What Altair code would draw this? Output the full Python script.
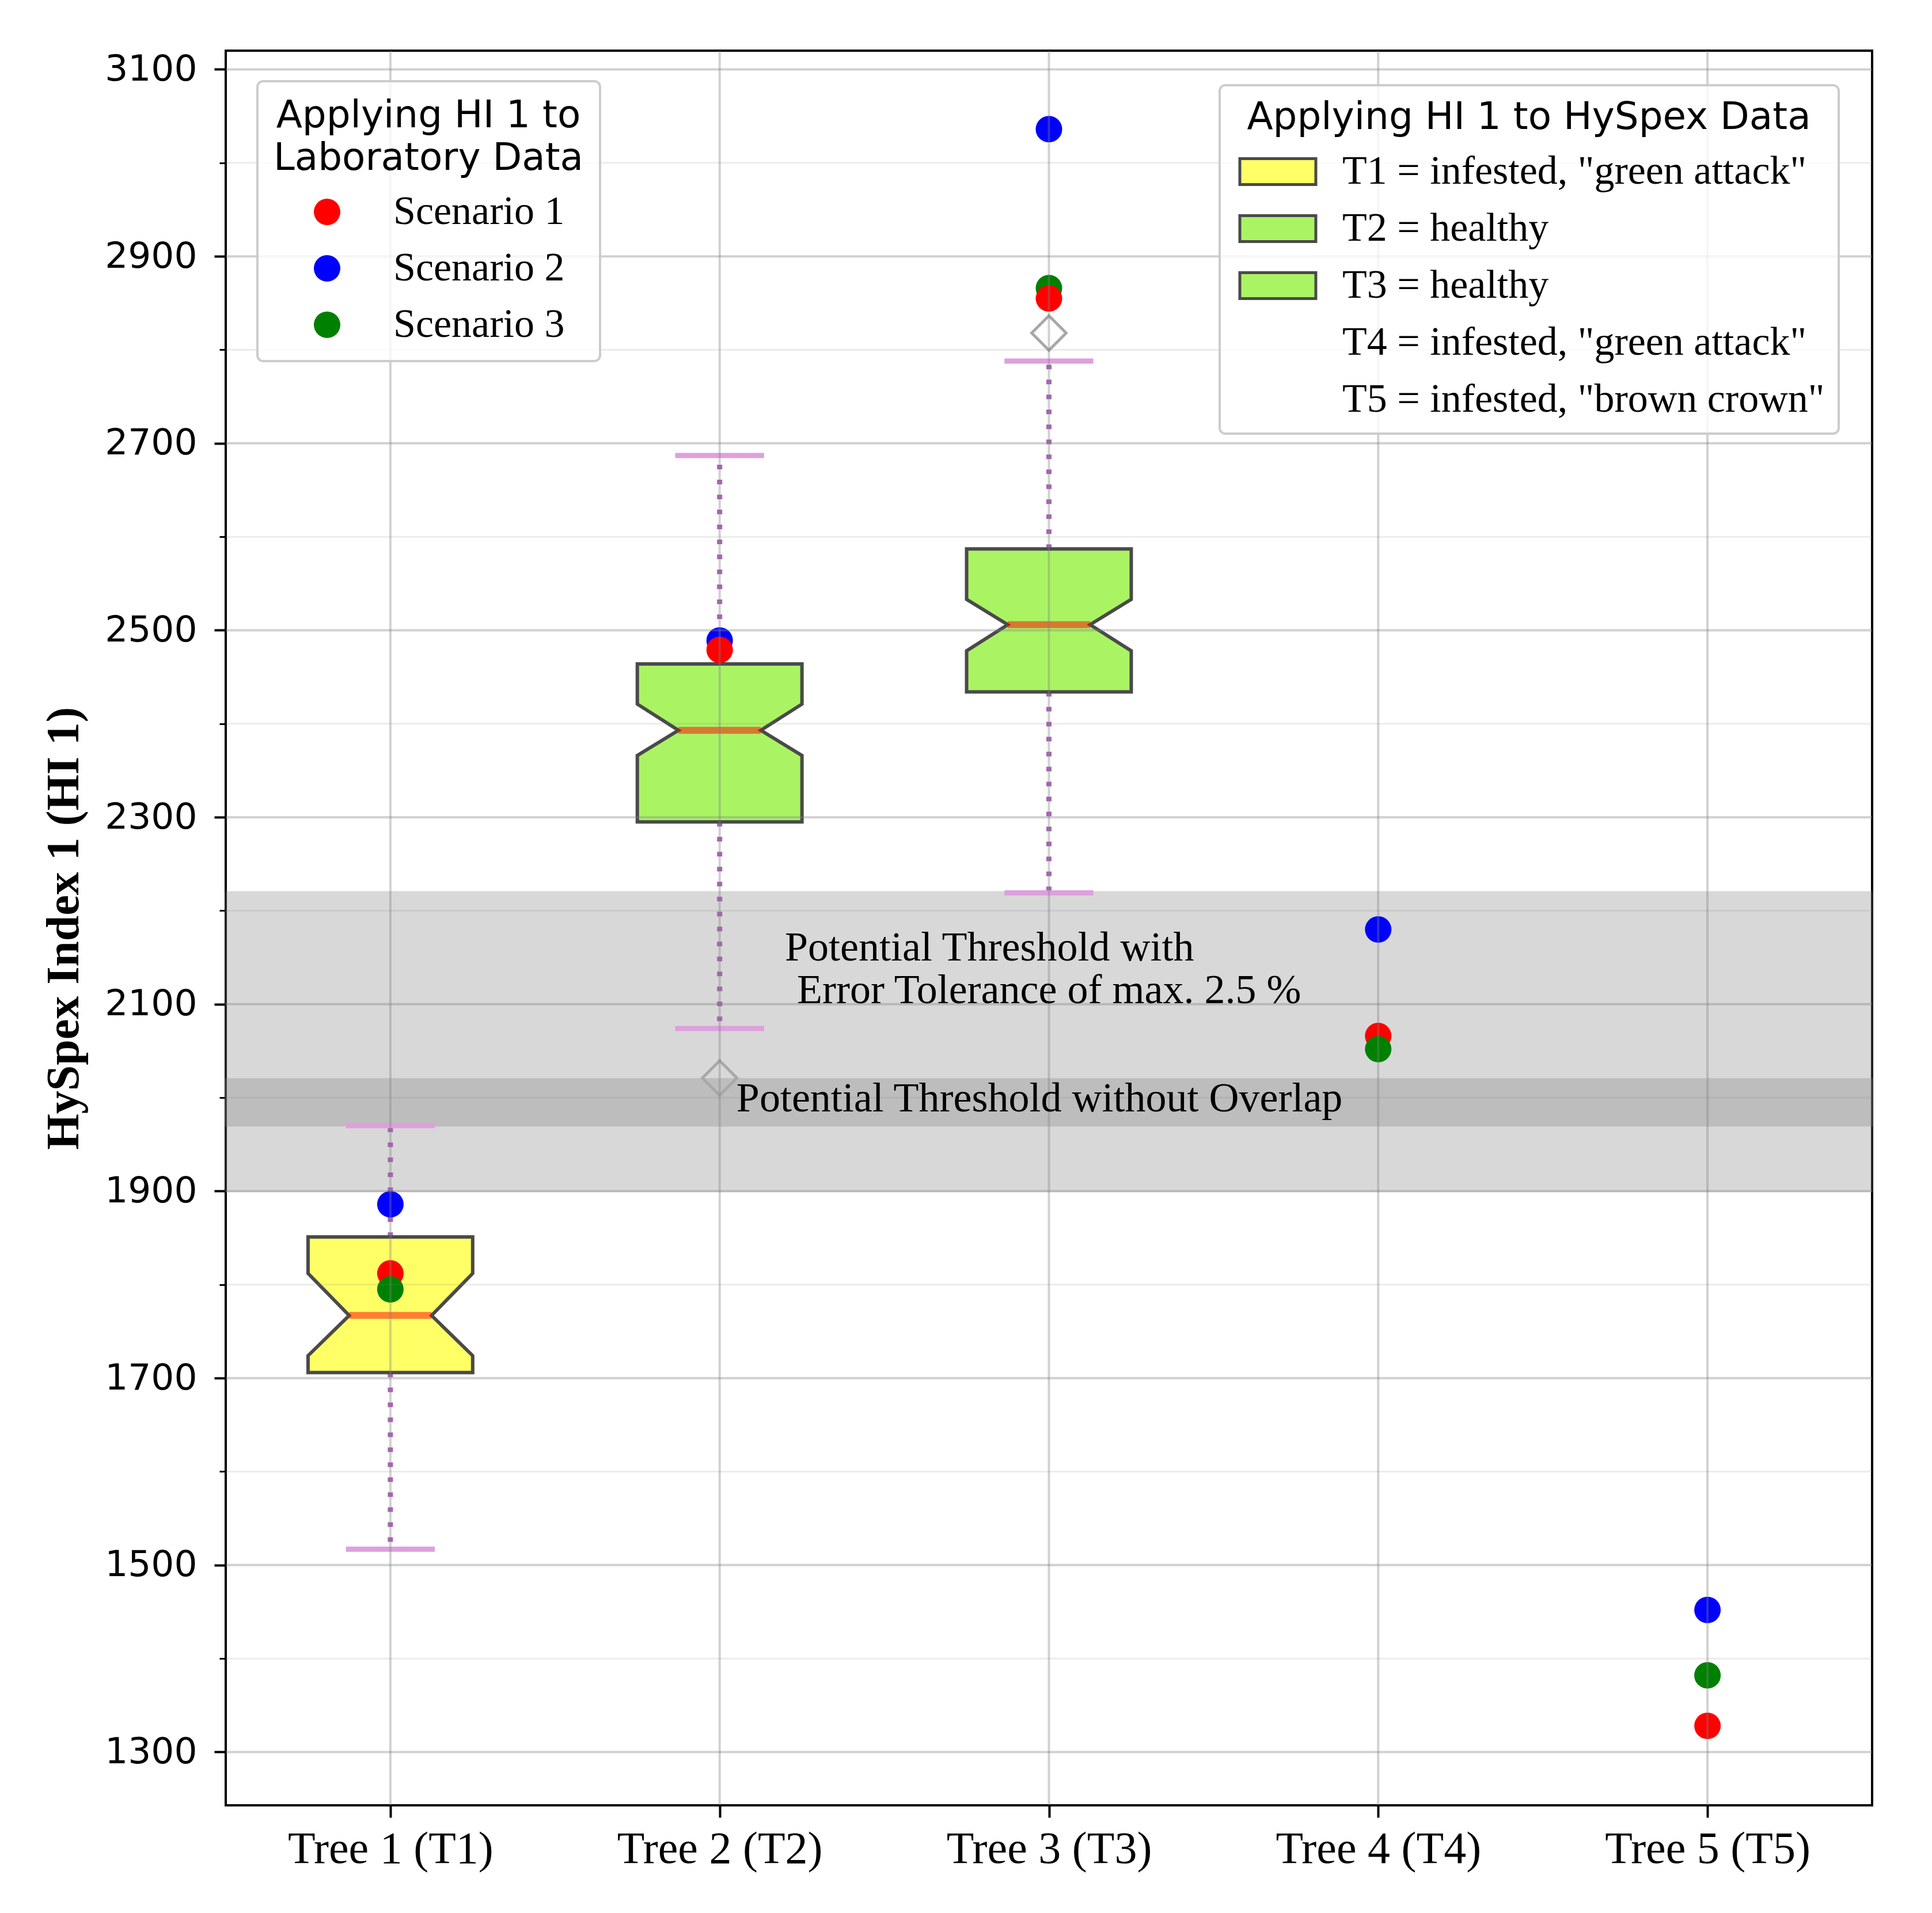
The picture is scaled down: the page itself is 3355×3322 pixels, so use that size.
import json
import altair as alt
import pandas as pd

# ---------------- data ----------------
trees = ["Tree 1 (T1)", "Tree 2 (T2)", "Tree 3 (T3)", "Tree 4 (T4)", "Tree 5 (T5)"]
tree_pos = [1, 2, 3, 4, 5]

scenarios = ["Scenario 1", "Scenario 2", "Scenario 3"]
scenario_colors = ["#ff0000", "#0000ff", "#008000"]
scenario1 = [1812, 2479, 2855, 2066, 1328]
scenario2 = [1886, 2489, 3036, 2180, 1452]
scenario3 = [1795, None, 2866, 2052, 1382]

box_labels = ['T1 = infested, "green attack"', "T2 = healthy", "T3 = healthy",
              'T4 = infested, "green attack"', 'T5 = infested, "brown crown"']
box_fill = ["#ffff66", "#aaf464", "#aaf464", "rgba(0,0,0,0)", "rgba(0,0,0,0)"]
box_edge = ["#4a4a4a", "#4a4a4a", "#4a4a4a", "rgba(0,0,0,0)", "rgba(0,0,0,0)"]
box_pos = [1, 2, 3]
q1 = [1706, 2295, 2434]
q3 = [1851, 2464, 2587]
median = [1767, 2393, 2506]
notch_lo = [1724, 2366, 2478]
notch_hi = [1812, 2421, 2533]
whisker_lo = [1517, 2074, 2219]
whisker_hi = [1970, 2687, 2788]
flier_pos = [2, 3]
flier_val = [2021, 2818]

band_lo = [1900, 1970]
band_hi = [2220, 2020]

notes = ["Potential Threshold with", "Error Tolerance of max. 2.5 %",
         "Potential Threshold without Overlap"]
note_x = [2.198, 2.235, 2.051]
note_y = [2147, 2101, 1985]

y_major = [1300, 1500, 1700, 1900, 2100, 2300, 2500, 2700, 2900, 3100]
y_minor = [1400, 1600, 1800, 2000, 2200, 2400, 2600, 2800, 3000]
y_domain = [1243, 3120]
x_domain = [0.5, 5.5]

BOX_HW = 0.25
NOTCH_HW = 0.125
CAP_HW = 0.135

# ---------------- tables ----------------
pts = []
for i, p in enumerate(tree_pos):
    order = [1, 0, 2] if i != 2 else [1, 2, 0]
    vals = [scenario1[i], scenario2[i], scenario3[i]]
    for s in order:
        if vals[s] is not None:
            pts.append({"pos": p, "v": vals[s], "scenario": scenarios[s]})
pts = pd.DataFrame(pts)

poly = []
for i, p in enumerate(box_pos):
    prof = [(q1[i], BOX_HW), (notch_lo[i], BOX_HW), (median[i], NOTCH_HW),
            (notch_hi[i], BOX_HW), (q3[i], BOX_HW)]
    for v, hw in prof:
        poly.append({"label": box_labels[i], "y": v, "xl": p - hw, "xr": p + hw})
poly = pd.DataFrame(poly)

whisk = []
for i, p in enumerate(box_pos):
    whisk.append({"pos": p, "a": q3[i], "b": whisker_hi[i]})
    whisk.append({"pos": p, "a": q1[i], "b": whisker_lo[i]})
whisk = pd.DataFrame(whisk)

caps = []
for i, p in enumerate(box_pos):
    for v in (whisker_lo[i], whisker_hi[i]):
        caps.append({"cl": p - CAP_HW, "cr": p + CAP_HW, "v": v})
caps = pd.DataFrame(caps)

meds = pd.DataFrame({"ml": [p - NOTCH_HW for p in box_pos],
                     "mr": [p + NOTCH_HW for p in box_pos], "v": median})
fl = pd.DataFrame({"pos": flier_pos, "v": flier_val})
bands = pd.DataFrame({"lo": band_lo, "hi": band_hi})
txt = pd.DataFrame({"x": note_x, "y": note_y, "t": notes})
gmaj = pd.DataFrame({"v": y_major})
gmin = pd.DataFrame({"v": y_minor})
gx = pd.DataFrame({"pos": tree_pos})

# ---------------- scales / axes ----------------
xs = alt.Scale(domain=x_domain, nice=False, zero=False)
ys = alt.Scale(domain=y_domain, nice=False, zero=False)

x_axis = alt.Axis(values=tree_pos, labelExpr=f"{json.dumps([''] + trees)}[datum.value]",
                  grid=False, tickSize=21, tickWidth=4, tickColor="black", domain=False,
                  labelFont="Liberation Serif", labelFontSize=78, labelPadding=16,
                  labelColor="black", labelLimit=1000, title=None)
y_axis = alt.Axis(values=y_major, orient="left", format="d", grid=False, tickSize=20,
                  tickWidth=4, tickColor="black", domain=False, labelFont="DejaVu Sans",
                  labelFontSize=63, labelPadding=30, labelColor="black", labelLimit=1000,
                  title="HySpex Index 1 (HI 1)", titleFont="Liberation Serif",
                  titleFontSize=80, titleFontWeight="bold", titleColor="black",
                  titlePadding=40)
y_minor_axis = alt.Axis(values=y_minor, orient="left", grid=False, tickSize=11,
                        tickWidth=3, tickColor="black", domain=False, labels=False,
                        title=None)

leg1 = alt.Legend(title=["Applying HI 1 to", "Laboratory Data"], orient="none",
                  legendX=55, legendY=53, padding=28, titleFont="DejaVu Sans",
                  titleFontSize=66, titleFontWeight="normal", titleLineHeight=74,
                  titleAnchor="middle", titleColor="black", titlePadding=24,
                  titleLimit=2000, labelFont="Liberation Serif", labelFontSize=70,
                  labelColor="black", labelLimit=2000, labelOffset=80, symbolOffset=26,
                  symbolSize=2116, symbolType="circle", symbolStrokeWidth=0,
                  rowPadding=28, strokeColor="#cccccc",
                  fillColor="rgba(255,255,255,0.8)", cornerRadius=10, zindex=2)
leg2 = alt.Legend(title="Applying HI 1 to HySpex Data", orient="none",
                  legendX=1726, legendY=60, padding=24, titleFont="DejaVu Sans",
                  titleFontSize=66, titleFontWeight="normal", titleAnchor="middle",
                  titleColor="black", titlePadding=25, titleLimit=2000,
                  labelFont="Liberation Serif", labelFontSize=70, labelColor="black",
                  labelLimit=2000, labelOffset=77, symbolOffset=42, symbolSize=2025,
                  symbolType="M-2.933,-1H2.933V1H-2.933Z", symbolStrokeWidth=5,
                  rowPadding=29, strokeColor="#cccccc",
                  fillColor="rgba(255,255,255,0.8)", cornerRadius=10, zindex=2)

def X(field):
    return alt.X(field, scale=xs, axis=x_axis)

def Y(field, axis=None):
    return alt.Y(field, scale=ys, axis=axis)

# ---------------- layers ----------------
band_layer = alt.Chart(bands).mark_rect(color="gray", opacity=0.3, stroke="gray",
                                         strokeWidth=3).encode(
    y=Y("lo:Q", y_minor_axis), y2="hi:Q")

whisk_layer = alt.Chart(whisk).mark_rule(color="#a864b4", strokeWidth=9,
                                          strokeDash=[8, 18]).encode(
    x=X("pos:Q"), y=Y("a:Q"), y2="b:Q")

cap_layer = alt.Chart(caps).mark_rule(color="#dda0dd", strokeWidth=9).encode(
    x=X("cl:Q"), x2="cr:Q", y=Y("v:Q"))

box_layer = alt.Chart(poly).mark_area(orient="horizontal", strokeWidth=6, opacity=1,
                                      fillOpacity=1, strokeJoin="miter").encode(
    y=Y("y:Q"),
    x=alt.X("xl:Q", scale=xs, axis=x_axis, stack=None), x2="xr:Q",
    fill=alt.Fill("label:N", scale=alt.Scale(domain=box_labels, range=box_fill), legend=leg2),
    stroke=alt.Stroke("label:N", scale=alt.Scale(domain=box_labels, range=box_edge), legend=leg2),
)

med_layer = alt.Chart(meds).mark_rule(color="#ff0000", opacity=0.5, strokeWidth=12).encode(
    x=X("ml:Q"), x2="mr:Q", y=Y("v:Q"))

flier_layer = alt.Chart(fl).mark_point(shape="diamond", size=3600, filled=False,
                                       color="#a8a8a8", strokeWidth=5, opacity=1).encode(
    x=X("pos:Q"), y=Y("v:Q"))

pt_layer = alt.Chart(pts).mark_circle(size=2116, opacity=1).encode(
    x=X("pos:Q"),
    y=Y("v:Q", y_axis),
    color=alt.Color("scenario:N", scale=alt.Scale(domain=scenarios, range=scenario_colors),
                    legend=leg1),
)

gmaj_layer = alt.Chart(gmaj).mark_rule(color="gray", opacity=0.36, strokeWidth=4).encode(
    y=Y("v:Q"))
gmin_layer = alt.Chart(gmin).mark_rule(color="gray", opacity=0.15, strokeWidth=3).encode(
    y=Y("v:Q"))
gx_layer = alt.Chart(gx).mark_rule(color="gray", opacity=0.36, strokeWidth=4).encode(
    x=X("pos:Q"))

txt_layer = alt.Chart(txt).mark_text(align="left", baseline="alphabetic",
                                     font="Liberation Serif", fontSize=72,
                                     color="black").encode(
    x=X("x:Q"), y=Y("y:Q"), text="t:N")

chart = alt.layer(band_layer, whisk_layer, cap_layer, box_layer, med_layer, flier_layer,
                  pt_layer, gmin_layer, gmaj_layer, gx_layer, txt_layer
                  ).resolve_axis(y="independent").properties(
    width=2859, height=3047,
    padding={"left": 384, "top": 80, "right": 96, "bottom": 179},
    autosize=alt.AutoSizeParams(type="none"),
    background="white",
).configure_view(stroke="black", strokeWidth=4).configure_legend(strokeWidth=4)

chart.save("out.html", embed_options={"renderer": "svg", "actions": False})
